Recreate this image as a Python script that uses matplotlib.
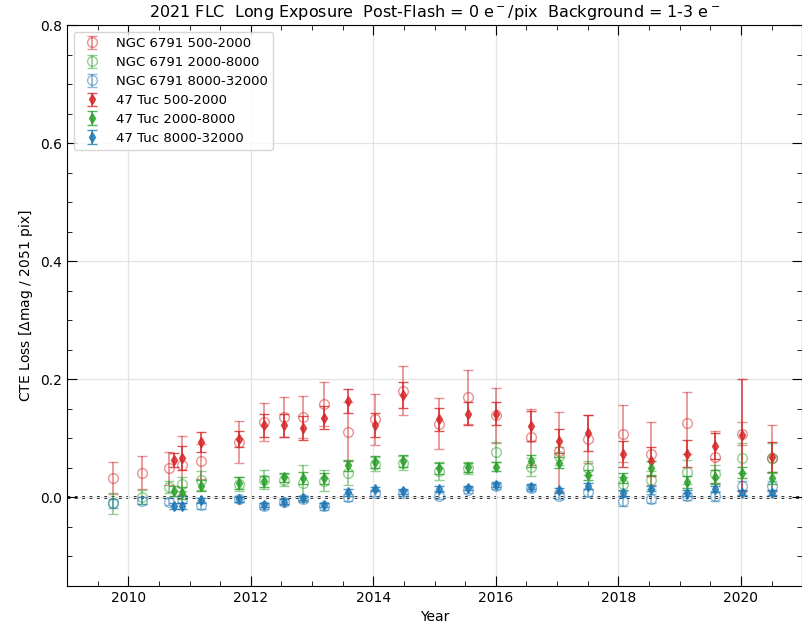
import matplotlib
matplotlib.use("Agg")
import matplotlib.pyplot as plt
from matplotlib.ticker import MultipleLocator

# ---- NGC 6791 epochs and CTE losses per flux bin ----
ngc_year = [2009.75, 2010.22, 2010.67, 2010.88, 2011.19, 2011.80, 2012.21, 2012.54,
            2012.85, 2013.19, 2013.58, 2014.02, 2014.49, 2015.08, 2015.55, 2016.00,
            2016.58, 2017.03, 2017.51, 2018.08, 2018.54, 2019.12, 2019.57, 2020.02,
            2020.50]
ngc_low = [0.033, 0.042, 0.049, 0.054, 0.061, 0.094, 0.127, 0.136, 0.136, 0.158,
           0.111, 0.132, 0.181, 0.125, 0.170, 0.139, 0.102, 0.078, 0.099, 0.108,
           0.074, 0.126, 0.068, 0.108, 0.067]
ngc_low_err = [0.027, 0.028, 0.028, 0.050, 0.030, 0.036, 0.032, 0.034, 0.035, 0.037,
               0.050, 0.043, 0.042, 0.043, 0.045, 0.047, 0.047, 0.067, 0.041, 0.048,
               0.053, 0.052, 0.044, 0.020, 0.056]
ngc_mid = [-0.010, 0.000, 0.018, 0.022, 0.029, 0.022, 0.030, 0.030, 0.024, 0.028,
           0.041, 0.056, 0.058, 0.045, 0.050, 0.077, 0.052, 0.070, 0.050, 0.022,
           0.030, 0.043, 0.040, 0.067, 0.067]
ngc_mid_err = [0.018, 0.012, 0.010, 0.012, 0.016, 0.012, 0.016, 0.010, 0.030, 0.018,
               0.020, 0.012, 0.012, 0.015, 0.010, 0.017, 0.015, 0.015, 0.012, 0.012,
               0.015, 0.020, 0.015, 0.025, 0.025]
ngc_high = [-0.010, -0.006, -0.007, -0.003, -0.013, -0.003, -0.014, -0.008, -0.002,
            -0.015, 0.000, 0.008, 0.008, 0.003, 0.013, 0.020, 0.016, 0.003, 0.009,
            -0.006, -0.002, 0.002, 0.002, 0.019, 0.019]
ngc_high_err = [0.008, 0.006, 0.006, 0.006, 0.006, 0.005, 0.005, 0.005, 0.005, 0.006,
                0.006, 0.005, 0.005, 0.006, 0.005, 0.006, 0.005, 0.006, 0.006, 0.008,
                0.008, 0.006, 0.008, 0.008, 0.008]

# ---- 47 Tuc epochs and CTE losses per flux bin ----
tuc_year = [2010.74, 2010.88, 2011.19, 2011.80, 2012.21, 2012.54, 2012.85, 2013.19,
            2013.58, 2014.02, 2014.49, 2015.08, 2015.55, 2016.00, 2016.58, 2017.03,
            2017.51, 2018.08, 2018.54, 2019.12, 2019.57, 2020.02, 2020.50]
tuc_low = [0.064, 0.067, 0.094, 0.099, 0.122, 0.122, 0.118, 0.135, 0.163, 0.123,
           0.174, 0.132, 0.142, 0.142, 0.121, 0.095, 0.109, 0.073, 0.061, 0.074,
           0.087, 0.105, 0.068]
tuc_low_err = [0.012, 0.020, 0.017, 0.014, 0.019, 0.020, 0.020, 0.020, 0.020, 0.020,
               0.022, 0.020, 0.020, 0.020, 0.025, 0.020, 0.030, 0.022, 0.025, 0.023,
               0.022, 0.095, 0.025]
tuc_mid = [0.011, 0.008, 0.020, 0.025, 0.027, 0.034, 0.033, 0.032, 0.054, 0.060,
           0.061, 0.049, 0.051, 0.052, 0.061, 0.059, 0.038, 0.033, 0.050, 0.026,
           0.034, 0.042, 0.033]
tuc_mid_err = [0.008, 0.010, 0.010, 0.010, 0.010, 0.008, 0.010, 0.010, 0.010, 0.010,
               0.010, 0.010, 0.008, 0.008, 0.010, 0.010, 0.008, 0.008, 0.012, 0.010,
               0.012, 0.010, 0.010]
tuc_high = [-0.014, -0.015, -0.005, -0.003, -0.013, -0.007, -0.001, -0.013, 0.009,
            0.014, 0.010, 0.015, 0.016, 0.021, 0.018, 0.012, 0.019, 0.008, 0.015,
            0.008, 0.014, 0.008, 0.008]
tuc_high_err = [0.005, 0.005, 0.004, 0.004, 0.004, 0.004, 0.004, 0.004, 0.006, 0.004,
                0.004, 0.004, 0.004, 0.004, 0.004, 0.004, 0.005, 0.005, 0.005, 0.005,
                0.005, 0.004, 0.004]

bin_labels = ["500-2000", "2000-8000", "8000-32000"]
bin_colors = ["tab:red", "tab:green", "tab:blue"]

fig = plt.figure(figsize=(8.03, 6.26), dpi=100)
ax = fig.add_axes([0.0834, 0.064, 0.9156, 0.896])

ngc_sets = [(ngc_low, ngc_low_err), (ngc_mid, ngc_mid_err), (ngc_high, ngc_high_err)]
tuc_sets = [(tuc_low, tuc_low_err), (tuc_mid, tuc_mid_err), (tuc_high, tuc_high_err)]

for (vals, errs), lab, col in zip(ngc_sets, bin_labels, bin_colors):
    ax.errorbar(ngc_year, vals, yerr=errs, fmt="o", mfc="none", mec=col, color=col,
                ms=7, capsize=3.5, elinewidth=1.3, alpha=0.5,
                label=f"NGC 6791 {lab}")

for (vals, errs), lab, col in zip(tuc_sets, bin_labels, bin_colors):
    ax.errorbar(tuc_year, vals, yerr=errs, fmt="d", color=col, ms=5, capsize=3.5,
                elinewidth=1.3, alpha=0.8, label=f"47 Tuc {lab}")

ax.axhline(0.0, color="black", ls=":", lw=2, zorder=0.5)

ax.set_xlim(2009, 2021)
ax.set_ylim(-0.15, 0.8)
ax.xaxis.set_major_locator(MultipleLocator(2))
ax.xaxis.set_minor_locator(MultipleLocator(0.5))
ax.yaxis.set_major_locator(MultipleLocator(0.2))
ax.yaxis.set_minor_locator(MultipleLocator(0.05))
ax.tick_params(which="both", direction="in", top=True, right=True, labelsize=10)
ax.tick_params(which="major", length=7)
ax.tick_params(which="minor", length=3.5)
ax.grid(True, which="major", color="#e3e3e3", lw=0.9)
ax.set_axisbelow(True)

ax.set_xlabel("Year", fontsize=10)
ax.set_ylabel(r"CTE Loss [$\Delta$mag / 2051 pix]", fontsize=10)
ax.set_title(r"2021 FLC  Long Exposure  Post-Flash = 0 e$^-$/pix  Background = 1-3 e$^-$",
             fontsize=11.5)

ax.legend(loc="upper left", fontsize=9.5, framealpha=0.8, labelspacing=0.45)

fig.savefig("out.png", dpi=100)
